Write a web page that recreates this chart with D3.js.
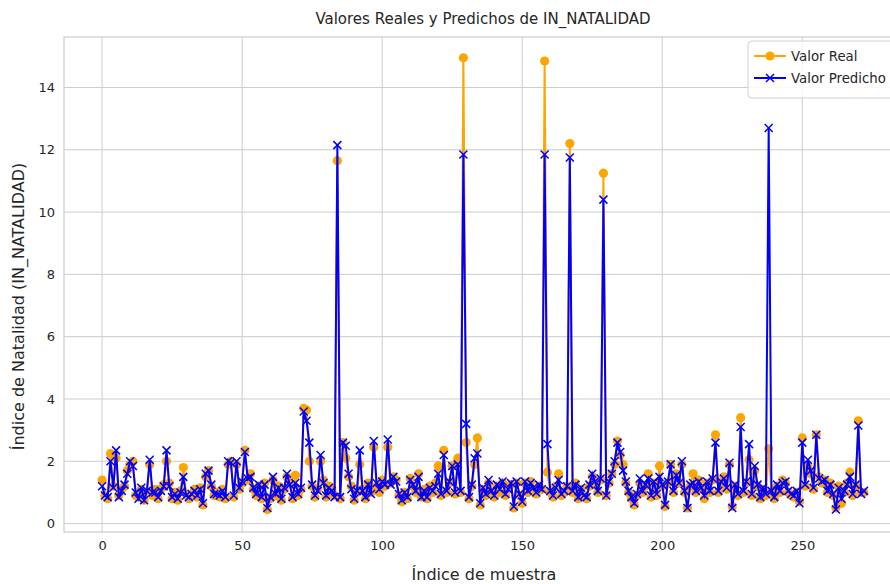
<!DOCTYPE html>
<html><head><meta charset="utf-8">
<script src="https://cdn.jsdelivr.net/npm/d3@7"></script>
<style>
body{margin:0;background:#fff;}
text{font-family:"DejaVu Sans",sans-serif;fill:#262626;}
</style></head><body>
<svg id="c" width="890" height="584"></svg>
<script>
const title = "Valores Reales y Predichos de IN_NATALIDAD";
const xLabel = "Índice de muestra";
const yLabel = "Índice de Natalidad (IN_NATALIDAD)";
const seriesNames = ["Valor Real", "Valor Predicho"];
const xTicks = [0, 50, 100, 150, 200, 250];
const yTicks = [0, 2, 4, 6, 8, 10, 12, 14];

const realValues = [
1.4,0.9,0.8,2.25,1.2,2.1,0.9,1.1,1.2,1.7,
1.9,2.0,0.9,0.85,1.1,0.75,1.0,1.9,0.9,1.1,
0.8,1.1,1.25,2.0,1.3,0.8,1.0,0.75,1.05,1.8,
0.95,0.8,0.9,1.1,0.85,1.15,0.6,1.5,1.7,1.2,
0.9,1.0,0.85,1.1,0.8,1.9,2.0,0.85,1.9,1.1,
1.3,2.35,1.4,1.6,1.1,0.9,1.2,0.8,1.3,0.45,
0.8,1.4,0.9,1.2,0.75,1.1,1.5,1.3,0.8,1.55,
0.9,1.1,3.7,3.65,2.0,1.2,0.85,1.1,2.0,1.4,
0.85,1.2,1.1,0.9,11.65,0.8,2.6,2.1,1.5,1.2,
0.75,1.0,1.9,1.1,0.8,1.3,1.0,2.45,1.2,1.0,
1.4,1.2,2.45,1.3,1.5,1.4,0.9,0.7,1.0,0.8,
1.45,1.2,1.0,1.6,0.85,1.1,0.8,1.2,1.0,1.3,
1.85,0.9,2.35,1.0,1.3,1.85,0.95,2.1,1.0,14.95,
2.6,0.8,1.2,1.9,2.75,0.6,1.1,0.9,1.3,1.0,
0.85,1.2,1.0,1.3,0.9,1.1,1.25,0.5,1.3,0.9,
0.65,1.3,1.0,1.35,1.1,0.95,1.2,1.1,14.85,1.65,
1.0,0.85,1.2,1.6,0.9,1.0,1.2,12.2,1.0,1.3,
0.8,1.1,0.85,0.8,1.2,1.5,1.3,1.0,1.4,11.25,
0.9,1.3,1.6,1.9,2.65,2.2,1.9,1.3,1.0,0.8,
0.6,0.9,1.3,1.0,1.2,1.6,0.85,1.3,0.9,1.85,
1.2,0.55,1.3,1.9,1.0,1.6,1.3,1.9,1.0,0.5,
1.2,1.6,1.0,1.4,1.1,0.8,1.3,1.0,1.4,2.85,
1.0,1.3,1.5,1.1,1.9,0.55,1.2,0.9,3.4,1.0,
1.3,2.05,0.9,1.7,1.2,0.8,1.1,0.9,2.4,1.0,
0.8,1.2,1.0,1.4,1.3,1.0,0.9,0.85,1.0,0.7,
2.75,1.2,1.85,1.6,1.1,2.85,1.5,1.3,1.4,1.0,
1.3,0.9,0.5,1.2,0.65,1.0,1.3,1.65,0.9,1.2,
3.3,1.0,1.0];

const predValues = [
1.2,0.9,0.85,2.0,1.15,2.35,0.85,1.05,1.25,1.6,
2.0,1.85,1.0,0.8,1.15,0.75,1.05,2.05,1.0,1.0,
0.85,1.05,1.2,2.35,1.2,0.85,0.95,0.8,1.0,1.5,
0.9,0.85,0.95,1.05,0.9,1.1,0.65,1.6,1.7,1.25,
0.95,0.95,0.9,1.05,0.85,2.0,1.95,0.9,2.0,1.15,
1.35,2.3,1.45,1.5,1.15,0.95,1.25,0.85,1.25,0.5,
0.85,1.5,0.95,1.15,0.8,1.15,1.6,1.25,0.85,1.3,
0.95,1.15,3.6,3.3,2.6,1.25,0.9,1.05,2.2,1.3,
0.9,1.15,1.05,0.85,12.15,0.85,2.6,2.5,1.6,1.1,
0.8,1.05,2.35,1.05,0.85,1.25,0.95,2.65,1.3,1.1,
1.35,1.25,2.7,1.25,1.5,1.35,0.95,0.75,1.0,0.85,
1.4,1.25,1.05,1.5,0.85,1.05,0.85,1.15,1.05,1.2,
1.6,0.95,2.2,1.05,1.35,1.85,1.0,1.9,1.05,11.85,
3.2,0.85,1.25,2.1,2.25,0.65,1.15,0.95,1.4,1.05,
0.9,1.25,1.1,1.35,0.95,1.1,1.3,0.55,1.35,0.95,
0.7,1.35,1.05,1.3,1.15,1.0,1.25,1.1,11.85,2.55,
1.05,0.9,1.15,1.4,0.95,1.05,1.2,11.75,1.05,1.25,
0.85,1.15,0.9,0.85,1.25,1.6,1.35,1.05,1.45,10.4,
0.9,1.35,1.6,2.0,2.6,2.3,1.7,1.35,1.05,0.85,
0.65,0.95,1.45,1.05,1.25,1.45,0.9,1.35,0.95,1.5,
1.25,0.6,1.35,1.9,1.05,1.55,1.3,2.0,1.05,0.5,
1.25,1.3,1.05,1.35,1.15,0.9,1.35,1.05,1.45,2.6,
1.05,1.35,1.45,1.15,1.95,0.5,1.25,0.95,3.1,1.05,
1.35,2.55,0.95,1.85,1.25,0.85,1.15,0.95,12.7,1.05,
0.85,1.25,1.05,1.3,1.35,1.05,0.95,0.9,1.05,0.65,
2.6,1.25,2.05,1.7,1.15,2.85,1.45,1.35,1.4,1.05,
1.25,0.95,0.45,1.15,0.8,1.05,1.25,1.5,0.95,1.25,
3.15,0.95,1.05];

const colors = ["#FFA500", "#0000FF"];

const svg = d3.select("#c");
const W = 890, H = 584;
const m = {left: 64, right: -12, top: 37, bottom: 52};
const x = d3.scaleLinear().domain([-13.6, 285.6]).range([m.left, W - m.right]);
const y = d3.scaleLinear().domain([-0.27, 15.62]).range([H - m.bottom, m.top]);

// grid
const g = svg.append("g");
g.selectAll(".vg").data(xTicks).enter().append("line")
  .attr("x1", d => x(d)).attr("x2", d => x(d)).attr("y1", m.top).attr("y2", H - m.bottom)
  .attr("stroke", "#cccccc").attr("stroke-width", 1);
g.selectAll(".hg").data(yTicks).enter().append("line")
  .attr("x1", m.left).attr("x2", W).attr("y1", d => y(d)).attr("y2", d => y(d))
  .attr("stroke", "#cccccc").attr("stroke-width", 1);
g.append("rect").attr("x", m.left).attr("y", m.top).attr("width", W - m.right - m.left)
  .attr("height", H - m.bottom - m.top).attr("fill", "none").attr("stroke", "#cccccc").attr("stroke-width", 1.2);

// axes
const xAxis = d3.axisBottom(x).tickValues(xTicks).tickSize(0).tickPadding(9);
const ax = svg.append("g").attr("transform", `translate(0,${H - m.bottom})`).call(xAxis);
ax.select(".domain").remove();
ax.selectAll("text").style("font-size", "13px").attr("fill", "#262626");
const yAxis = d3.axisLeft(y).tickValues(yTicks).tickSize(0).tickPadding(9);
const ay = svg.append("g").attr("transform", `translate(${m.left},0)`).call(yAxis);
ay.select(".domain").remove();
ay.selectAll("text").style("font-size", "13px").attr("fill", "#262626");

// labels
svg.append("text").attr("x", 483).attr("y", 24).attr("text-anchor", "middle")
  .style("font-size", "15px").text(title);
svg.append("text").attr("x", 484).attr("y", 580).attr("text-anchor", "middle")
  .style("font-size", "16px").text(xLabel);
svg.append("text").attr("transform", `translate(24,${(m.top + H - m.bottom) / 2 + 22}) rotate(-90)`)
  .attr("text-anchor", "middle").style("font-size", "16px").text(yLabel);

// data
const line = d3.line().x((d, i) => x(i)).y(d => y(d));
const plot = svg.append("g");
plot.append("path").datum(realValues).attr("d", line).attr("fill", "none")
  .attr("stroke", colors[0]).attr("stroke-width", 2);
plot.selectAll(".pr").data(realValues).enter().append("circle")
  .attr("cx", (d, i) => x(i)).attr("cy", d => y(d)).attr("r", 4.6).attr("fill", colors[0]);
plot.append("path").datum(predValues).attr("d", line).attr("fill", "none")
  .attr("stroke", colors[1]).attr("stroke-width", 2);
const s = 4;
const xm = (cx, cy) => `M${cx - s},${cy - s}L${cx + s},${cy + s}M${cx - s},${cy + s}L${cx + s},${cy - s}`;
plot.selectAll(".pp").data(predValues).enter().append("path")
  .attr("d", (d, i) => xm(x(i), y(d))).attr("stroke", colors[1]).attr("stroke-width", 1.5).attr("fill", "none");

// legend
const lg = svg.append("g");
lg.append("rect").attr("x", 748).attr("y", 41).attr("width", 160).attr("height", 57).attr("rx", 4)
  .attr("fill", "#ffffff").attr("fill-opacity", 0.85).attr("stroke", "#d0d0d0");
seriesNames.forEach((n, i) => {
  const yy = 56 + i * 22;
  lg.append("line").attr("x1", 754).attr("x2", 786).attr("y1", yy).attr("y2", yy)
    .attr("stroke", colors[i]).attr("stroke-width", 2);
  if (i === 0) lg.append("circle").attr("cx", 770).attr("cy", yy).attr("r", 4.6).attr("fill", colors[0]);
  else lg.append("path").attr("d", xm(770, yy)).attr("stroke", colors[1]).attr("stroke-width", 1.5);
  lg.append("text").attr("x", 791).attr("y", yy + 5).style("font-size", "13.3px").text(n);
});
</script></body></html>
